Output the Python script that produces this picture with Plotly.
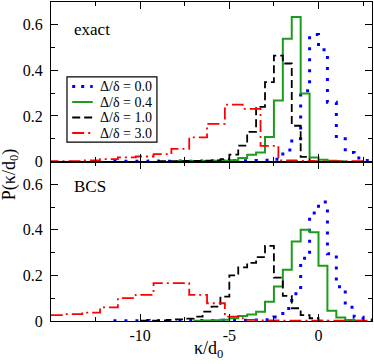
import plotly.graph_objects as go
from plotly.subplots import make_subplots

# ---------------- data ----------------
series_labels = ["Δ/δ = 0.0", "Δ/δ = 0.4", "Δ/δ = 1.0", "Δ/δ = 3.0"]

narrow_bin = 0.5   # bin width of the Δ/δ = 0.0, 0.4, 1.0 histograms
wide_bin = 1.0     # bin width of the Δ/δ = 3.0 histograms

# exact (top panel): first left bin edge and bin heights
exact_d00_start = -11.5
exact_d00 = [0.001, 0.001, 0.001, 0.001, 0.002, 0.001, 0.001, 0.002, 0.001, 0.002,
             0.002, 0.002, 0.002, 0.003, 0.003, 0.003, 0.004,
             0.005, 0.01, 0.05, 0.10, 0.31, 0.557, 0.49, 0.26, 0.10, 0.04, 0.015, 0.004]
exact_d04_start = -8.0
exact_d04 = [0.001, 0.001, 0.002, 0.002, 0.003, 0.003,
             0.005, 0.015, 0.03, 0.04, 0.108, 0.268, 0.539, 0.634, 0.298, 0.018,
             0.008, 0.003, 0.001]
exact_d10_start = -9.0
exact_d10 = [0.001, 0.002, 0.002, 0.003, 0.003, 0.004, 0.005,
             0.01, 0.03, 0.07, 0.13, 0.24, 0.348, 0.465, 0.43, 0.157, 0.02, 0.003]
exact_d30_start = -15.25
exact_d30 = [0.002, 0.002, 0.005, 0.01, 0.018, 0.022, 0.032, 0.055, 0.106, 0.165,
             0.25, 0.231, 0.069, 0.005, 0.003, 0.002, 0.002, 0.002]

# BCS (bottom panel)
bcs_d00_start = -11.5
bcs_d00 = [0.001, 0.001, 0.001, 0.002, 0.001, 0.001, 0.002, 0.001, 0.002, 0.002,
           0.002, 0.002, 0.003, 0.003, 0.003, 0.004, 0.004,
           0.005, 0.018, 0.055, 0.12, 0.275, 0.474, 0.522, 0.295, 0.15, 0.06, 0.016, 0.004]
bcs_d04_start = -7.0
bcs_d04 = [0.001, 0.002, 0.003, 0.005, 0.012, 0.022, 0.029, 0.041, 0.085, 0.151,
           0.225, 0.349, 0.40, 0.389, 0.242, 0.045, 0.015, 0.004, 0.001]
bcs_d10_start = -10.0
bcs_d10 = [0.002, 0.002, 0.003, 0.005, 0.007, 0.01, 0.019, 0.041, 0.063, 0.107,
           0.20, 0.235, 0.255, 0.28, 0.33, 0.19, 0.11, 0.056, 0.026, 0.012, 0.002]
bcs_d30_start = -16.25
bcs_d30 = [0.026, 0.026, 0.03, 0.037, 0.06, 0.10, 0.115, 0.166, 0.166, 0.115,
           0.078, 0.019, 0.005, 0.003, 0.002, 0.002, 0.002, 0.002, 0.002]

x_tick_vals = [-10, -5, 0]
x_tick_text = ["-10", "-5", "0"]
x_minor_vals = [-12.5, -7.5, -2.5, 2.5]
y_tick_vals = [0, 0.2, 0.4, 0.6]
y_tick_text = ["0", "0.2", "0.4", "0.6"]
y_minor_vals = [0.1, 0.3, 0.5]

# ---------------- styles ----------------
colors = ["#0000ff", "#1c9c1c", "#000000", "#ff0000"]
dashes = ["3px,8px", "solid", "8px,4px", "12px,4px,2px,4px"]
legend_dashes = ["3px,6px", "solid", "8px,4px", "12px,4px,2px,4px"]
widths = [3.0, 2.0, 1.8, 1.8]
FONT = "Liberation Serif"


def steps(start, width, values):
    edges = [start + i * width for i in range(len(values) + 1)]
    return edges, list(values) + [values[-1]]


fig = make_subplots(rows=2, cols=1, shared_xaxes=True, vertical_spacing=0)

exact_sets = [(exact_d00_start, narrow_bin, exact_d00), (exact_d04_start, narrow_bin, exact_d04),
              (exact_d10_start, narrow_bin, exact_d10), (exact_d30_start, wide_bin, exact_d30)]
bcs_sets = [(bcs_d00_start, narrow_bin, bcs_d00), (bcs_d04_start, narrow_bin, bcs_d04),
            (bcs_d10_start, narrow_bin, bcs_d10), (bcs_d30_start, wide_bin, bcs_d30)]

for row, sets in ((1, exact_sets), (2, bcs_sets)):
    for i, (s, w, v) in enumerate(sets):
        xs, ys = steps(s, w, v)
        fig.add_trace(go.Scatter(
            x=xs, y=ys, mode="lines", line_shape="hv", name=series_labels[i],
            showlegend=False,
            line=dict(color=colors[i], dash=dashes[i], width=widths[i]),
        ), row=row, col=1)

axis_common = dict(showline=True, linecolor="black", linewidth=1.3, mirror="allticks",
                   ticks="inside", ticklen=7, tickwidth=1.3, tickcolor="black",
                   showgrid=False, zeroline=False,
                   tickfont=dict(family=FONT, size=16, color="black"))

for r in (1, 2):
    fig.update_xaxes(range=[-15, 3], tickmode="array", tickvals=x_tick_vals, ticktext=x_tick_text,
                     minor=dict(tickvals=x_minor_vals, ticks="inside", ticklen=4, tickwidth=1.3,
                                tickcolor="black", showgrid=False),
                     **axis_common, row=r, col=1)
    fig.update_yaxes(range=[0, 0.7], tickmode="array", tickvals=y_tick_vals, ticktext=y_tick_text,
                     minor=dict(tickvals=y_minor_vals, ticks="inside", ticklen=4, tickwidth=1.3,
                                tickcolor="black", showgrid=False),
                     ticklabelstandoff=4,
                     **axis_common, row=r, col=1)

fig.update_xaxes(showticklabels=False, row=1, col=1)

# ---------------- legend (drawn in the top panel) ----------------
fig.add_shape(type="rect", xref="paper", yref="paper", x0=0.0498, x1=0.330, y0=0.561, y1=0.765,
              line=dict(color="black", width=1.2), fillcolor="white", layer="above")
legend_rows_y = [0.7351, 0.6865, 0.6379, 0.5893]
for i, ly in enumerate(legend_rows_y):
    fig.add_shape(type="line", xref="paper", yref="paper", x0=0.066, x1=0.130, y0=ly, y1=ly,
                  line=dict(color=colors[i], dash=legend_dashes[i], width=widths[i]), layer="above")
    fig.add_annotation(text=series_labels[i], xref="paper", yref="paper", x=0.148, y=ly,
                       xanchor="left", yanchor="middle", showarrow=False, borderpad=0,
                       font=dict(family=FONT, size=14, color="black"))

fig.add_annotation(text="exact", xref="paper", yref="paper", x=0.065, y=0.915,
                   xanchor="left", yanchor="middle", showarrow=False,
                   font=dict(family=FONT, size=17, color="black"))
fig.add_annotation(text="BCS", xref="paper", yref="paper", x=0.065, y=0.421,
                   xanchor="left", yanchor="middle", showarrow=False,
                   font=dict(family=FONT, size=17, color="black"))
fig.add_annotation(text="P(κ/d<sub>0</sub>)", xref="paper", yref="paper", x=-0.128, y=0.46,
                   xanchor="center", yanchor="middle", textangle=-90, showarrow=False,
                   font=dict(family=FONT, size=18, color="black"))
fig.add_annotation(text="κ/d<sub>0</sub>", xref="paper", yref="paper", x=0.49, y=-0.088,
                   xanchor="center", yanchor="middle", showarrow=False,
                   font=dict(family=FONT, size=18, color="black"))

fig.update_layout(
    width=374, height=364,
    margin=dict(l=51, r=2, t=2, b=43),
    paper_bgcolor="white", plot_bgcolor="white",
    showlegend=False,
)

fig.write_html("out.html", config={"displayModeBar": False},
               post_script="document.body.style.margin='0';")
